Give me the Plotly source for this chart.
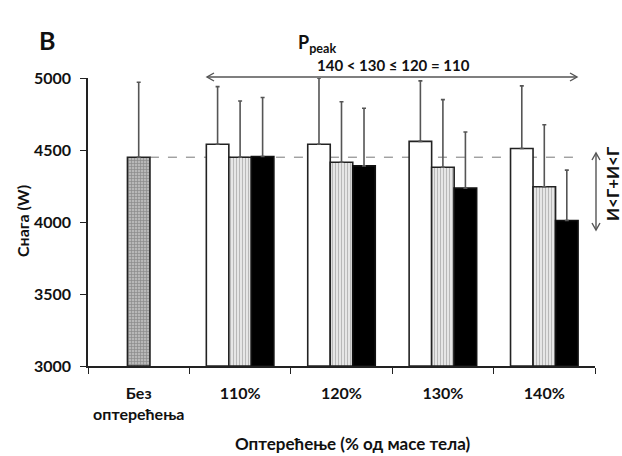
import plotly.graph_objects as go

# ---- data ----
categories = ["Без<br>оптерећења", "110%", "120%", "130%", "140%"]
no_load_cat = ["Без<br>оптерећења"]
no_load_mean = [4450]
no_load_sd = [520]

load_cats = ["110%", "120%", "130%", "140%"]
white_mean = [4540, 4540, 4560, 4510]
white_sd = [400, 460, 420, 435]
striped_mean = [4450, 4415, 4380, 4245]
striped_sd = [390, 420, 470, 430]
black_mean = [4455, 4390, 4235, 4010]
black_sd = [410, 400, 390, 350]

FONT = "Lato, Carlito, 'Liberation Sans', sans-serif"
BW = 0.222

W, H = 622, 456
ML, MR, MT, MB = 88, 27, 78, 90
PW, PH = W - ML - MR, H - MT - MB


def px2x(px):
    return (px - ML) / PW


def px2y(py):
    return (H - MB - py) / PH


def err(sd):
    return dict(type="data", symmetric=False, array=sd, arrayminus=[0] * len(sd),
                color="#555555", thickness=1.6, width=2)


fig = go.Figure()
fig.add_trace(go.Bar(
    x=no_load_cat, y=[m - 3000 for m in no_load_mean], base=3000,
    width=BW, offset=-BW / 2,
    marker=dict(color="#b0b0b0", line=dict(color="#222222", width=1.6),
                pattern=dict(shape="+", fgcolor="#5a5a5a", bgcolor="#b8b8b8", size=3, solidity=0.4)),
    error_y=err(no_load_sd), cliponaxis=False, showlegend=False))

fig.add_trace(go.Bar(
    x=load_cats, y=[m - 3000 for m in white_mean], base=3000,
    width=BW, offset=-1.5 * BW,
    marker=dict(color="white", line=dict(color="#222222", width=1.6)),
    error_y=err(white_sd), cliponaxis=False, showlegend=False))

fig.add_trace(go.Bar(
    x=load_cats, y=[m - 3000 for m in striped_mean], base=3000,
    width=BW, offset=-0.5 * BW,
    marker=dict(color="#e0e0e0", line=dict(color="#222222", width=1.6),
                pattern=dict(shape="|", fgcolor="#808080", bgcolor="#e6e6e6", size=3, solidity=0.3)),
    error_y=err(striped_sd), cliponaxis=False, showlegend=False))

fig.add_trace(go.Bar(
    x=load_cats, y=[m - 3000 for m in black_mean], base=3000,
    width=BW, offset=0.5 * BW,
    marker=dict(color="black", line=dict(color="#111111", width=1.6)),
    error_y=err(black_sd), cliponaxis=False, showlegend=False))

# dashed reference line at no-load level
fig.add_shape(type="line", xref="x", yref="y", x0=BW / 2, x1=4.33,
              y0=no_load_mean[0], y1=no_load_mean[0],
              line=dict(color="#777777", width=1, dash="dash"), layer="below")

ACOL = "#555555"
# horizontal double arrow (paper coords)
hx0, hx1, hy = 207, 577, 77
fig.add_shape(type="line", xref="paper", yref="paper", x0=px2x(hx0), x1=px2x(hx1),
              y0=px2y(hy), y1=px2y(hy), line=dict(color=ACOL, width=1.4))
for tip, d in ((hx0, 1), (hx1, -1)):
    path = (f"M {px2x(tip + 7 * d)} {px2y(hy - 4)} L {px2x(tip)} {px2y(hy)} "
            f"L {px2x(tip + 7 * d)} {px2y(hy + 4)}")
    fig.add_shape(type="path", xref="paper", yref="paper", path=path,
                  line=dict(color=ACOL, width=1.4))
# vertical double arrow
vx, vy0, vy1 = 596, 153, 230
fig.add_shape(type="line", xref="paper", yref="paper", x0=px2x(vx), x1=px2x(vx),
              y0=px2y(vy0), y1=px2y(vy1), line=dict(color=ACOL, width=1.4))
for tip, d in ((vy0, 1), (vy1, -1)):
    path = (f"M {px2x(vx - 4)} {px2y(tip + 7 * d)} L {px2x(vx)} {px2y(tip)} "
            f"L {px2x(vx + 4)} {px2y(tip + 7 * d)}")
    fig.add_shape(type="path", xref="paper", yref="paper", path=path,
                  line=dict(color=ACOL, width=1.4))

TXT = "#111111"


def ann(px, py, text, size, angle=0):
    return dict(xref="paper", yref="paper", x=px2x(px), y=px2y(py), text=text,
                xanchor="center", yanchor="middle", textangle=angle, showarrow=False,
                font=dict(family=FONT, size=size, color=TXT))


anns = [
    ann(393, 65, "<b>140 &lt; 130 ≤ 120 = 110</b>", 15),
    ann(612, 184, "<b>И&lt;Г+И&lt;Г</b>", 17, -90),
    ann(47, 40, "<b>B</b>", 25),
    ann(317, 43, "<b>P<sub>peak</sub></b>", 18),
    ann(22, 221, "<b>Снага (W)</b>", 16, -90),
    ann(353, 443, "<b>Оптерећење (% од масе тела)</b>", 17),
]

fig.update_layout(
    width=W, height=H,
    margin=dict(l=ML, r=MR, t=MT, b=MB),
    paper_bgcolor="white", plot_bgcolor="white",
    barmode="overlay",
    annotations=anns,
    font=dict(family=FONT, size=14, color=TXT),
)
fig.update_xaxes(type="category", categoryorder="array", categoryarray=categories,
                 range=[-0.5, 4.5], tickson="boundaries", ticks="outside", ticklen=6,
                 tickcolor="#222222", showline=True, linecolor="#222222", linewidth=1.5,
                 showgrid=False, zeroline=False, ticklabelstandoff=12,
                 tickfont=dict(family=FONT, size=16, color=TXT, weight="bold"))
fig.update_yaxes(range=[3000, 5000], tickvals=[3000, 3500, 4000, 4500, 5000],
                 ticks="outside", ticklen=6, tickcolor="#222222", showline=True,
                 linecolor="#222222", linewidth=1.5, showgrid=False, zeroline=False,
                 ticklabelstandoff=6,
                 tickfont=dict(family=FONT, size=16, color=TXT, weight="bold"))

fig.write_html("out.html")
